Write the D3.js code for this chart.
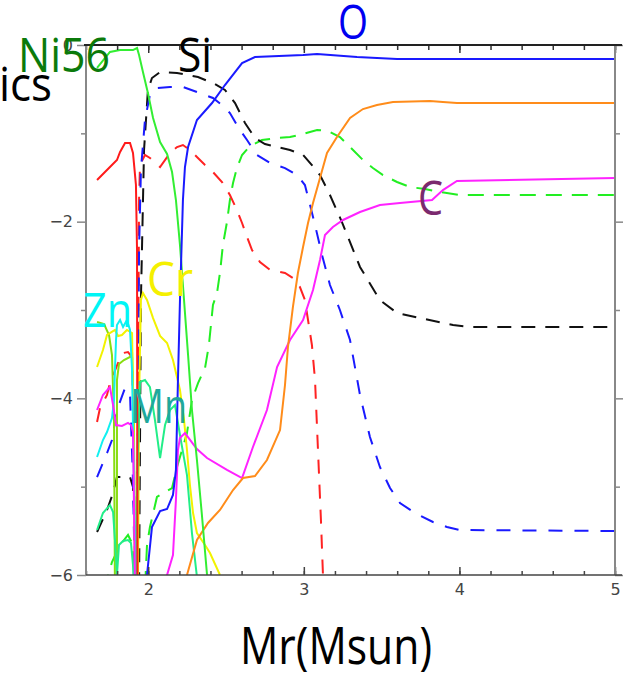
<!DOCTYPE html>
<html>
<head>
<meta charset="utf-8">
<script src="https://cdn.jsdelivr.net/npm/d3@7/dist/d3.min.js"></script>
<style>
body { margin: 0; background: #fff; }
svg { display: block; }
</style>
</head>
<body>
<script>
const width = 635,
	  height = 677;

// mass coordinate Mr (Msun) vs log10 mass fraction
const oLine = [[1.992,-6.0],[2.024,-5.457],[2.076,-5.276],[2.121,-5.253],[2.159,-5.094],[2.178,-4.811],[2.191,-3.793],[2.204,-2.887],[2.223,-1.755],[2.236,-1.381],[2.256,-1.155],[2.313,-0.849],[2.410,-0.657],[2.493,-0.453],[2.603,-0.204],[2.686,-0.136],[2.995,-0.113],[3.085,-0.102],[3.342,-0.136],[3.599,-0.158],[5.0,-0.158]];
const siLine = [[1.671,-5.513],[1.735,-5.264],[1.774,-5.072],[1.799,-4.891],[1.883,-4.891],[1.902,-5.004],[1.915,-5.491],[1.921,-6.17],[1.941,-6.17],[1.953,-2.887],[1.973,-1.189],[1.998,-0.509],[2.024,-0.374],[2.076,-0.306],[2.185,-0.317],[2.320,-0.362],[2.429,-0.442],[2.493,-0.509],[2.558,-0.657],[2.622,-0.883],[2.686,-1.053],[2.750,-1.121],[2.911,-1.189],[2.995,-1.245],[3.052,-1.359],[3.104,-1.472],[3.168,-1.698],[3.245,-2.004],[3.361,-2.513],[3.489,-2.887],[3.599,-3.034],[3.746,-3.091],[3.959,-3.170],[4.068,-3.193],[5.0,-3.193]];
const sLine = [[1.671,-4.891],[1.735,-4.619],[1.767,-4.472],[1.799,-4.132],[1.851,-3.883],[1.883,-3.962],[1.902,-4.925],[1.915,-6.17],[1.928,-6.17],[1.934,-4.019],[1.941,-2.321],[1.953,-1.415],[1.979,-0.849],[2.011,-0.566],[2.056,-0.487],[2.140,-0.475],[2.223,-0.475],[2.313,-0.532],[2.416,-0.600],[2.474,-0.679],[2.525,-0.770],[2.577,-0.928],[2.635,-1.076],[2.699,-1.245],[2.783,-1.336],[2.879,-1.393],[2.956,-1.472],[3.007,-1.585],[3.040,-1.811],[3.072,-2.038],[3.117,-2.377],[3.168,-2.717],[3.232,-3.0],[3.297,-3.340],[3.361,-3.962],[3.425,-4.438],[3.489,-4.777],[3.554,-5.015],[3.618,-5.185],[3.714,-5.298],[3.830,-5.400],[3.920,-5.457],[4.004,-5.491],[5.0,-5.502]];
const niLine = [[1.671,-0.260],[1.754,-0.079],[1.819,-0.057],[1.902,-0.057],[1.928,-0.034],[1.941,-0.113],[1.966,-0.306],[1.998,-0.543],[2.031,-0.826],[2.076,-1.098],[2.121,-1.234],[2.153,-1.438],[2.178,-1.755],[2.204,-2.264],[2.230,-2.887],[2.256,-3.510],[2.281,-4.132],[2.313,-4.698],[2.345,-5.321],[2.378,-6.0]];
const crLine = [[1.671,-3.645],[1.709,-3.453],[1.735,-3.283],[1.786,-3.226],[1.806,-3.294],[1.831,-3.283],[1.863,-3.226],[1.896,-3.260],[1.908,-4.585],[1.915,-6.17],[1.934,-6.17],[1.941,-4.019],[1.953,-2.887],[1.966,-2.808],[1.992,-2.887],[2.031,-3.091],[2.076,-3.294],[2.121,-3.374],[2.159,-3.566],[2.204,-3.906],[2.230,-4.245],[2.249,-4.585],[2.268,-4.981],[2.288,-5.298],[2.313,-5.525],[2.365,-5.661],[2.397,-5.751],[2.461,-6.0]];
const znLine = [[1.671,-4.664],[1.709,-4.472],[1.735,-4.381],[1.767,-4.223],[1.780,-4.019],[1.786,-3.679],[1.793,-3.340],[1.799,-3.170],[1.819,-3.113],[1.838,-3.193],[1.863,-3.113],[1.883,-3.226],[1.896,-3.679],[1.908,-4.925],[1.921,-6.17]];
const feLine = [[1.671,-1.528],[1.722,-1.438],[1.754,-1.381],[1.799,-1.302],[1.819,-1.211],[1.851,-1.109],[1.883,-1.109],[1.902,-1.223],[1.921,-1.585],[1.928,-2.321],[1.931,-6.17]];
const caLine = [[1.671,-4.268],[1.690,-4.110],[1.735,-3.962],[1.754,-3.827],[1.806,-3.600],[1.838,-3.487],[1.870,-3.476],[1.896,-3.532],[1.908,-4.585],[1.915,-6.17],[1.928,-6.17],[1.934,-4.019],[1.941,-1.755],[1.947,-1.359],[1.979,-1.245],[2.011,-1.279],[2.076,-1.381],[2.140,-1.223],[2.185,-1.155],[2.223,-1.132],[2.268,-1.189],[2.313,-1.268],[2.365,-1.359],[2.416,-1.438],[2.474,-1.551],[2.525,-1.698],[2.570,-1.868],[2.603,-2.015],[2.635,-2.174],[2.667,-2.321],[2.718,-2.457],[2.783,-2.547],[2.879,-2.581],[2.930,-2.638],[2.975,-2.740],[3.007,-2.887],[3.027,-3.113],[3.052,-3.396],[3.072,-3.793],[3.091,-4.585],[3.110,-5.378],[3.123,-6.0]];
const mgLine = [[1.716,-6.17],[1.767,-5.853],[1.819,-5.661],[1.870,-5.547],[1.902,-5.661],[1.915,-6.17],[1.979,-6.17],[1.992,-5.661],[2.011,-5.457],[2.056,-5.117],[2.108,-5.061],[2.153,-5.015],[2.185,-4.777],[2.223,-4.551],[2.249,-4.393],[2.281,-4.019],[2.320,-3.827],[2.365,-3.657],[2.390,-3.396],[2.416,-2.943],[2.442,-2.808],[2.461,-2.581],[2.480,-2.264],[2.506,-2.004],[2.525,-1.755],[2.545,-1.562],[2.570,-1.392],[2.603,-1.245],[2.654,-1.143],[2.731,-1.076],[2.828,-1.053],[2.911,-1.042],[2.995,-1.008],[3.085,-0.962],[3.155,-0.974],[3.232,-1.042],[3.297,-1.155],[3.380,-1.302],[3.444,-1.392],[3.509,-1.472],[3.599,-1.551],[3.682,-1.608],[3.779,-1.630],[3.875,-1.664],[4.004,-1.698],[5.0,-1.698]];
const neLine = [[2.249,-6.0],[2.313,-5.604],[2.384,-5.411],[2.461,-5.264],[2.545,-5.038],[2.609,-4.902],[2.686,-4.879],[2.763,-4.698],[2.847,-4.359],[2.879,-3.849],[2.898,-3.419],[2.930,-2.966],[2.962,-2.581],[2.995,-2.287],[3.027,-2.015],[3.059,-1.789],[3.104,-1.506],[3.149,-1.223],[3.213,-1.042],[3.297,-0.826],[3.380,-0.725],[3.470,-0.679],[3.573,-0.645],[3.811,-0.634],[3.894,-0.645],[3.984,-0.657],[5.0,-0.657]];
const cLine = [[1.671,-4.132],[1.709,-3.962],[1.754,-3.872],[1.774,-4.076],[1.793,-4.302],[1.831,-4.313],[1.870,-4.279],[1.889,-4.302],[1.902,-4.381],[1.908,-5.151],[1.915,-6.17],[2.108,-6.17],[2.121,-6.0],[2.159,-5.774],[2.178,-5.151],[2.191,-4.585],[2.204,-4.449],[2.236,-4.393],[2.313,-4.574],[2.378,-4.676],[2.506,-4.811],[2.603,-4.902],[2.673,-4.551],[2.763,-4.132],[2.828,-3.645],[2.911,-3.340],[2.995,-3.113],[3.059,-2.774],[3.104,-2.434],[3.136,-2.151],[3.187,-2.060],[3.252,-1.981],[3.361,-1.891],[3.489,-1.811],[3.618,-1.789],[3.824,-1.755],[3.894,-1.642],[3.984,-1.540],[5.0,-1.506]];
const mnLine = [[1.671,-5.491],[1.709,-5.298],[1.754,-5.208],[1.774,-5.287],[1.786,-5.604],[1.799,-6.0],[1.812,-5.661],[1.838,-5.615],[1.870,-5.604],[1.889,-5.638],[1.902,-5.887],[1.908,-6.17],[1.921,-6.17],[1.934,-4.585],[1.947,-3.815],[1.979,-3.793],[2.011,-3.872],[2.043,-4.245],[2.076,-4.676],[2.108,-4.302],[2.140,-4.132],[2.172,-4.076],[2.204,-4.415],[2.249,-4.868],[2.281,-5.525],[2.313,-6.02]];
const coLine = [[1.671,-3.136],[1.716,-3.159],[1.748,-3.283],[1.767,-3.510],[1.780,-4.245],[1.786,-6.17],[1.799,-6.17],[1.799,-3.793],[1.812,-3.611],[1.844,-3.566],[1.883,-3.532],[1.896,-3.476],[1.908,-4.245],[1.915,-6.17]];

const xMajor = [2, 3, 4, 5];
const yMajor = [0, -2, -4, -6];
const yMinor = [-1, -3, -5];

var svg = d3.select("body").append("svg")
	.attr("width", width)
	.attr("height", height);

var x = d3.scaleLinear().domain([1.6, 5]).range([86, 615]);
var y = d3.scaleLinear().domain([-6, 0]).range([575, 45]);

svg.append("clipPath").attr("id", "plot")
	.append("rect")
	.attr("x", x(1.6)).attr("y", y(0))
	.attr("width", x(5) - x(1.6)).attr("height", y(-6) - y(0));

var line = d3.line()
	.x(d => x(d[0]))
	.y(d => y(d[1]));

// dashed first, solid on top
var series = [
	{ data: mgLine, color: "#22ee22", dash: "16,10" },
	{ data: caLine, color: "#ff2222", dash: "14,11" },
	{ data: siLine, color: "#111", dash: "14,10" },
	{ data: sLine, color: "#1a1aff", dash: "14,12" },
	{ data: coLine, color: "#88dd11" },
	{ data: crLine, color: "#f2f200" },
	{ data: znLine, color: "#11f0f0" },
	{ data: mnLine, color: "#22ee88" },
	{ data: cLine, color: "#ff22ff" },
	{ data: neLine, color: "#ff8c1a" },
	{ data: feLine, color: "#ff1a1a" },
	{ data: niLine, color: "#33ee33" },
	{ data: oLine, color: "#1a1aff" }
];

var plot = svg.append("g").attr("clip-path", "url(#plot)");

plot.selectAll(".series")
	.data(series)
	.enter()
	.append("path")
	.attr("class", "series")
	.attr("fill", "none")
	.attr("stroke", d => d.color)
	.attr("stroke-width", 2)
	.attr("stroke-dasharray", d => d.dash || null)
	.attr("d", d => line(d.data));

// axes
var xMinor = d3.range(8, 26).map(i => i / 5);

function styleAxis(g, col) {
	g.select(".domain").remove();
	g.selectAll("line").attr("stroke", col).attr("stroke-width", 1.5);
	g.selectAll("text")
		.attr("fill", "#444")
		.style("font-family", "'DejaVu Sans', sans-serif")
		.style("font-size", "16px");
}

svg.append("g").attr("transform", "translate(0," + y(-6) + ")")
	.call(d3.axisBottom(x).tickValues(xMinor).tickSize(-4).tickFormat(""))
	.call(g => styleAxis(g, "#444"));
svg.append("g").attr("transform", "translate(0," + y(-6) + ")")
	.call(d3.axisBottom(x).tickValues(xMajor).tickSize(-8).tickPadding(9).tickFormat(d3.format("d")))
	.call(g => styleAxis(g, "#444"));
svg.append("g").attr("transform", "translate(0," + y(0) + ")")
	.call(d3.axisTop(x).tickValues(xMinor).tickSize(-5).tickFormat(""))
	.call(g => styleAxis(g, "#333"));
svg.append("g").attr("transform", "translate(0," + y(0) + ")")
	.call(d3.axisTop(x).tickValues(xMajor).tickSize(-8).tickFormat(""))
	.call(g => styleAxis(g, "#333"));

svg.append("g").attr("transform", "translate(" + x(1.6) + ",0)")
	.call(d3.axisLeft(y).tickValues(yMajor).tickSize(9).tickPadding(4).tickFormat(d3.format("d")))
	.call(g => styleAxis(g, "#888"));
svg.append("g").attr("transform", "translate(" + x(1.6) + ",0)")
	.call(d3.axisLeft(y).tickValues(yMinor).tickSize(5).tickFormat(""))
	.call(g => styleAxis(g, "#888"));
svg.append("g").attr("transform", "translate(" + x(5) + ",0)")
	.call(d3.axisRight(y).tickValues(yMajor).tickSize(8).tickFormat(""))
	.call(g => styleAxis(g, "#888"));
svg.append("g").attr("transform", "translate(" + x(5) + ",0)")
	.call(d3.axisRight(y).tickValues(yMinor).tickSize(5).tickFormat(""))
	.call(g => styleAxis(g, "#888"));

// frame
svg.append("line").attr("x1", x(1.6)).attr("x2", x(1.6)).attr("y1", y(0)).attr("y2", y(-6))
	.attr("stroke", "#888").attr("stroke-width", 2);
svg.append("line").attr("x1", x(5)).attr("x2", x(5)).attr("y1", y(0)).attr("y2", y(-6))
	.attr("stroke", "#888").attr("stroke-width", 2);
svg.append("line").attr("x1", x(1.6)).attr("x2", x(5) + 7).attr("y1", y(-6)).attr("y2", y(-6))
	.attr("stroke", "#444").attr("stroke-width", 1.5);
svg.append("line").attr("x1", x(1.6) - 2).attr("x2", x(5) + 7).attr("y1", y(0)).attr("y2", y(0))
	.attr("stroke", "#222").attr("stroke-width", 2);

// element labels
var labelFont = "'Open Sans', 'DejaVu Sans', sans-serif";
var tags = [
	{ t: "Ni56", px: 18, py: 72, w: 92, c: "#0b7a0b" },
	{ t: "ics", px: -1, py: 101, w: 53, c: "#000" },
	{ t: "Si", px: 178, py: 72, w: 34, c: "#000" },
	{ t: "O", px: 338, py: 39, w: 30, c: "#0000f0" },
	{ t: "C", px: 418, py: 215, w: 25, c: "#7b2a6e" },
	{ t: "Cr", px: 147, py: 296, w: 46, c: "#f5f000" },
	{ t: "Zn", px: 83, py: 327, w: 49, c: "#00f5f5" },
	{ t: "Mn", px: 130, py: 423, w: 57, c: "#1fa89c" }
];

svg.selectAll(".tag")
	.data(tags)
	.enter()
	.append("text")
	.attr("class", "tag")
	.attr("x", d => d.px)
	.attr("y", d => d.py)
	.attr("textLength", d => d.w)
	.attr("lengthAdjust", "spacingAndGlyphs")
	.attr("fill", d => d.c)
	.style("font-family", labelFont)
	.style("font-size", "48px")
	.text(d => d.t);

svg.append("text")
	.attr("x", 240)
	.attr("y", 664)
	.attr("textLength", 192)
	.attr("lengthAdjust", "spacingAndGlyphs")
	.style("font-family", labelFont)
	.style("font-size", "52px")
	.attr("fill", "#000")
	.text("Mr(Msun)");
</script>
</body>
</html>
